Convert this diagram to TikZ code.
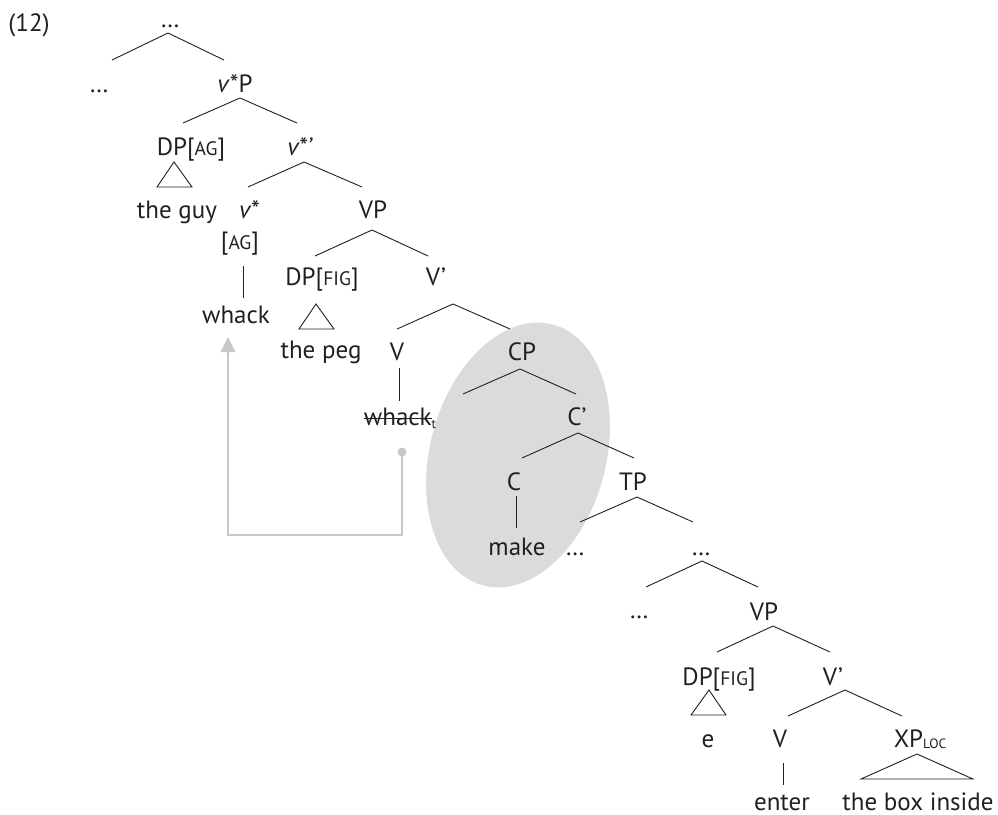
\documentclass[tikz,border=0pt]{standalone}
\usepackage{fontspec}
\setmainfont{PT Sans}
\usetikzlibrary{calc,arrows.meta}
\definecolor{ink}{HTML}{231F20}
\definecolor{ovalgray}{HTML}{DCDBDC}
\definecolor{movegray}{HTML}{C8C8C8}
\newcommand\smc[1]{{\fontsize{19.5}{19.5}\selectfont #1}}
\newsavebox\strkbox
\newcommand\strk[1]{\sbox\strkbox{#1}\rlap{\rule[0.25em]{\wd\strkbox}{1.2pt}}\usebox\strkbox}
\tikzset{
  lbl/.style={font=\fontsize{25}{29}\selectfont, inner sep=0pt, anchor=base, text=ink},
  br/.style={draw=ink, line width=0.9pt},
  mv/.style={draw=movegray, line width=2.7pt, -{Triangle[length=15pt,width=14pt]}}
}
\begin{document}
\begin{tikzpicture}[x=1pt,y=-1pt]
\useasboundingbox (0,0) rectangle (998,814);
% shaded CP region
\fill[ovalgray, rotate around={-15:(518,455)}] (518,455) ellipse [x radius=88, y radius=135];
% labels
\node[lbl] (n12) at (29,31) {(12)};
\node[lbl] (top) at (170,27) {…};
\node[lbl] (l1) at (99,92) {…};
\node[lbl] (vP) at (235,92) {\textit{v}*P};
\node[lbl] (DPag) at (191,155) {DP[\smc{AG}]};
\node[lbl] (vbar) at (300,155) {\textit{v*’}};
\node[lbl] (theguy) at (177,218) {the guy};
\node[lbl] (vstar) at (249,218) {\textit{v*}};
\node[lbl] (VPa) at (373,218) {VP};
\node[lbl] (ag) at (240,249) {[\smc{AG}]};
\node[lbl] (whack) at (236,323) {whack};
\node[lbl] (DPfig) at (322,285) {DP[\smc{FIG}]};
\node[lbl] (Vbara) at (436,285) {V’};
\node[lbl] (thepeg) at (321,358) {the peg};
\node[lbl] (Va) at (397,360) {V};
\node[lbl] (CP) at (522,360) {CP};
\node[lbl] (whackt) at (400,425) {\strk{whack}\raisebox{-3pt}{\fontsize{13}{13}\selectfont t}};
\node[lbl] (Cbar) at (577,425) {C’};
\node[lbl] (C) at (514,490) {C};
\node[lbl] (TP) at (633,490) {TP};
\node[lbl] (make) at (517,555) {make};
\node[lbl] (da) at (575,555) {…};
\node[lbl] (db) at (701,555) {…};
\node[lbl] (dc) at (639,618) {…};
\node[lbl] (VPb) at (764,620) {VP};
\node[lbl] (DPfigb) at (719,685) {DP[\smc{FIG}]};
\node[lbl] (Vbarb) at (833,685) {V’};
\node[lbl] (e) at (708,747) {e};
\node[lbl] (Vb) at (780,747) {V};
\node[lbl] (XP) at (920,747) {XP\raisebox{-1pt}{\fontsize{13.5}{13.5}\selectfont LOC}};
\node[lbl] (enter) at (782,810) {enter};
\node[lbl] (box) at (918,810) {the box inside};
\coordinate (cpspec) at ($(CP.base)+(-59,34)$);
% branches
\draw[br] ($(l1.base)+(13,-32)$) -- ($(top.base)+(-2,6)$) -- ($(vP.base)+(-11,-32)$);
\draw[br] ($(DPag.base)+(-8,-32)$) -- ($(vP.base)+(5,6)$) -- ($(vbar.base)+(-3,-32)$);
\draw[br] ($(vstar.base)+(-1,-31)$) -- ($(vbar.base)+(4,7)$) -- ($(VPa.base)+(-11,-31)$);
\draw[br] ($(DPfig.base)+(-7,-29)$) -- ($(VPa.base)+(-1,12)$) -- ($(Vbara.base)+(-8,-29)$);
\draw[br] ($(Va.base)+(0,-31)$) -- ($(Vbara.base)+(17,19)$) -- ($(CP.base)+(-12,-31)$);
\draw[br] (cpspec) -- ($(CP.base)+(-2,9)$) -- ($(Cbar.base)+(-1,-31)$);
\draw[br] ($(C.base)+(8,-32)$) -- ($(Cbar.base)+(1,8)$) -- ($(TP.base)+(1,-32)$);
\draw[br] ($(da.base)+(5,-33)$) -- ($(TP.base)+(4,7)$) -- ($(db.base)+(-8,-33)$);
\draw[br] ($(dc.base)+(7,-31)$) -- ($(db.base)+(1,6)$) -- ($(VPb.base)+(-6,-33)$);
\draw[br] ($(DPfigb.base)+(-2,-33)$) -- ($(VPb.base)+(9,6)$) -- ($(Vbarb.base)+(-3,-33)$);
\draw[br] ($(Vb.base)+(8,-31)$) -- ($(Vbarb.base)+(12,5)$) -- ($(XP.base)+(-18,-31)$);
% unary lines
\draw[br] ($(ag.base)+(3,17)$) -- ($(whack.base)+(7,-25)$);
\draw[br] ($(Va.base)+(2,8)$) -- ($(whackt.base)+(-1,-24)$);
\draw[br] ($(C.base)+(2,6)$) -- ($(make.base)+(-1,-27)$);
\draw[br] ($(Vb.base)+(3,16)$) -- ($(enter.base)+(1,-25)$);
% triangles
\draw[br] ($(DPag.base)+(-17,7)$) -- ($(DPag.base)+(-34,32)$) -- ($(DPag.base)+(1,32)$) -- cycle;
\draw[br] ($(DPfig.base)+(-6,19)$) -- ($(DPfig.base)+(-23,44)$) -- ($(DPfig.base)+(12,44)$) -- cycle;
\draw[br] ($(DPfigb.base)+(-10,5)$) -- ($(DPfigb.base)+(-28,30)$) -- ($(DPfigb.base)+(7,30)$) -- cycle;
\draw[br] ($(XP.base)+(-3,7)$) -- ($(XP.base)+(-59,32)$) -- ($(XP.base)+(53,32)$) -- cycle;
% movement arrow
\coordinate (trace) at ($(whackt.base)+(2,27)$);
\draw[mv] (trace) -- ++(0,83) -| ($(whack.base)+(-8,14)$);
\fill[movegray] (trace) circle (4.5);
\end{tikzpicture}
\end{document}
